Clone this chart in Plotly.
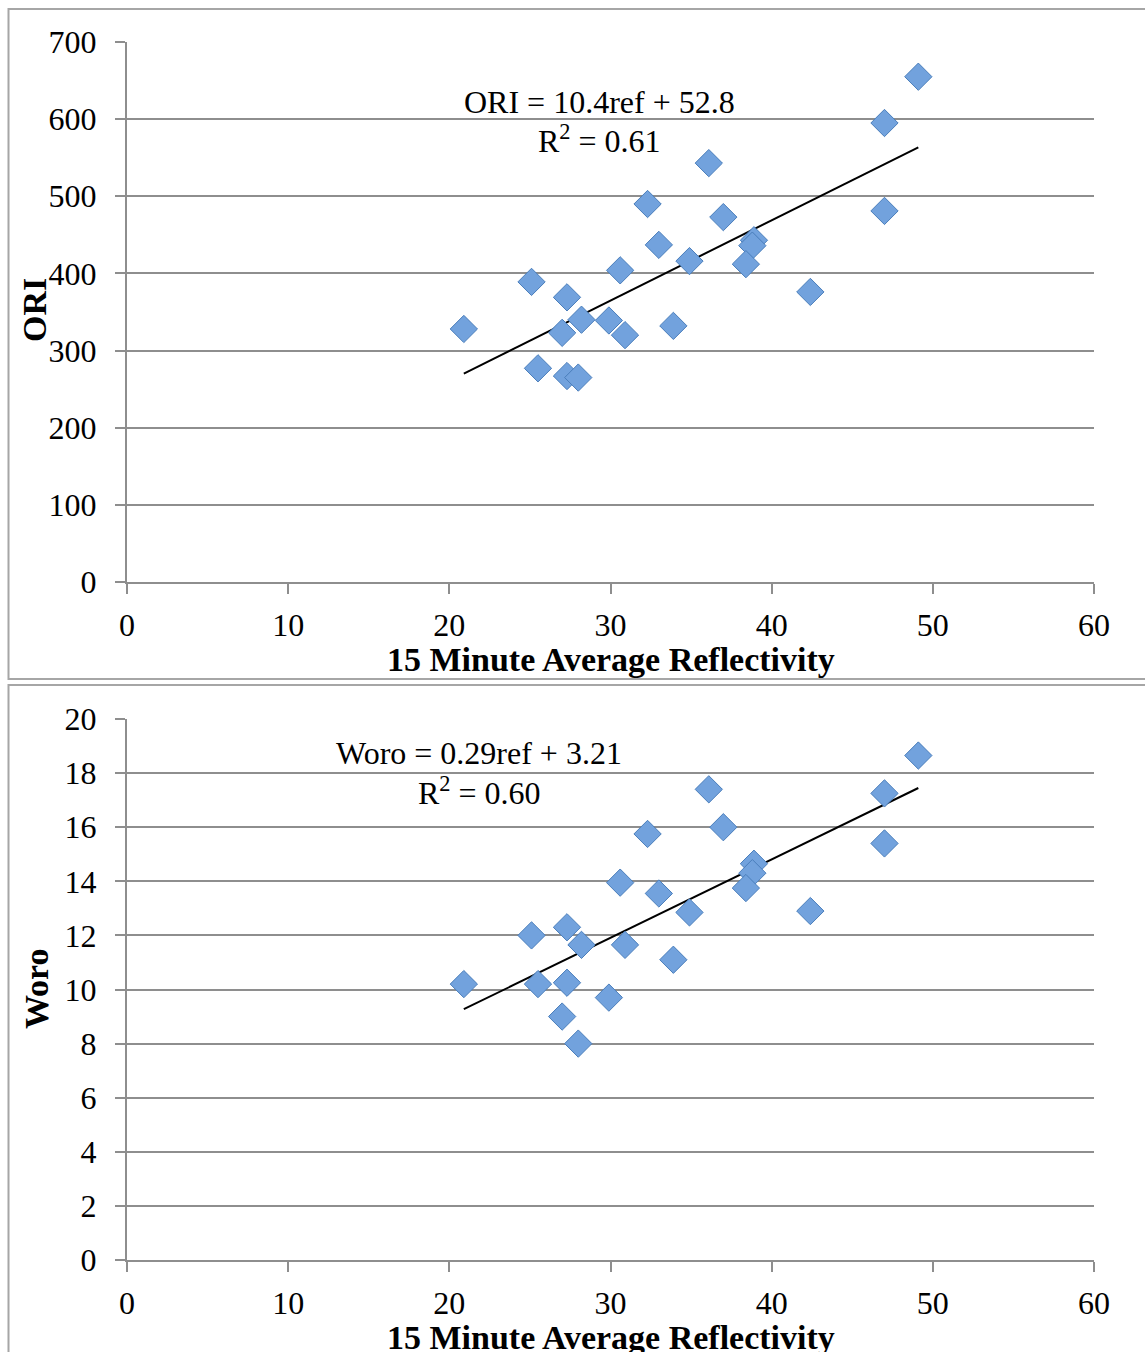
import plotly.graph_objects as go

# ---- data ----
ref = [20.9, 25.1, 27.3, 28.2, 27.0, 29.9, 30.9, 30.6, 32.3, 33.0, 34.9, 33.9,
       36.1, 37.0, 38.9, 38.8, 38.4, 42.4, 47.0, 47.0, 49.1, 25.5, 27.3, 28.0]
ori = [328, 389, 369, 340, 323, 339, 320, 404, 490, 437, 416, 332,
       543, 473, 443, 436, 412, 376, 595, 481, 655, 277, 267, 265]
woro = [10.2, 12.0, 12.3, 11.65, 9.0, 9.7, 11.65, 13.95, 15.75, 13.55, 12.85, 11.1,
        17.4, 16.0, 14.65, 14.3, 13.75, 12.9, 17.25, 15.4, 18.65, 10.2, 10.25, 8.0]

ori_fit = (10.4, 52.8)
woro_fit = (0.29, 3.21)
ori_eq = ["ORI = 10.4ref + 52.8", "R<sup>2</sup> = 0.61"]
woro_eq = ["Woro = 0.29ref + 3.21", "R<sup>2</sup> = 0.60"]

x_ticks = [0, 10, 20, 30, 40, 50, 60]
ori_ticks = [0, 100, 200, 300, 400, 500, 600, 700]
woro_ticks = [0, 2, 4, 6, 8, 10, 12, 14, 16, 18, 20]

W, H = 1145, 1352
FONT = "Liberation Serif"
GRID = "#8e8e8e"
BORDER = "#a6a6a6"
FILL = "#72a2dd"
EDGE = "#4a7ebb"

def px(v):
    return v / W

def py(v):
    return 1 - v / H

fig = go.Figure()

xmin, xmax = min(ref), max(ref)
for (yv, fit, xa, ya) in [(ori, ori_fit, "x", "y"), (woro, woro_fit, "x2", "y2")]:
    fig.add_trace(go.Scatter(
        x=[xmin, xmax], y=[fit[0] * xmin + fit[1], fit[0] * xmax + fit[1]],
        mode="lines", line=dict(color="black", width=2),
        xaxis=xa, yaxis=ya, showlegend=False, hoverinfo="skip"))
    fig.add_trace(go.Scatter(
        x=ref, y=yv, mode="markers",
        marker=dict(symbol="diamond", size=21, color=FILL,
                    line=dict(color=EDGE, width=1)),
        xaxis=xa, yaxis=ya, showlegend=False))

xdom = [px(127), px(1094)]
axis_common = dict(showline=True, linecolor=GRID, linewidth=2,
                   ticks="outside", ticklen=10, tickcolor=GRID, tickwidth=2,
                   tickfont=dict(family=FONT, size=32, color="black"),
                   zeroline=False, automargin=False)

fig.update_layout(
    width=W, height=H,
    margin=dict(l=0, r=0, t=0, b=0, autoexpand=False),
    paper_bgcolor="white", plot_bgcolor="white",
    xaxis=dict(domain=xdom, range=[0, 60], tickvals=x_ticks, showgrid=False,
               anchor="y", ticklabelstandoff=4, **axis_common),
    yaxis=dict(domain=[py(582), py(42)], range=[0, 700], tickvals=ori_ticks,
               showgrid=True, gridcolor=GRID, gridwidth=2, anchor="x",
               ticklabelstandoff=12, **axis_common),
    xaxis2=dict(domain=xdom, range=[0, 60], tickvals=x_ticks, showgrid=False,
                anchor="y2", ticklabelstandoff=4, **axis_common),
    yaxis2=dict(domain=[py(1260), py(719)], range=[0, 20], tickvals=woro_ticks,
                showgrid=True, gridcolor=GRID, gridwidth=2, anchor="x2",
                ticklabelstandoff=12, **axis_common),
)

# Chart boxes
fig.add_shape(type="rect", xref="paper", yref="paper",
              x0=px(8.5), x1=px(1160), y0=py(679), y1=py(9),
              line=dict(color=BORDER, width=2))
fig.add_shape(type="rect", xref="paper", yref="paper",
              x0=px(8.5), x1=px(1160), y0=py(1380), y1=py(685),
              line=dict(color=BORDER, width=2))

title_font = dict(family=FONT, size=34, color="black")
eq_font = dict(family=FONT, size=32, color="black")

annots = [
    dict(x=px(611), y=py(660), text="<b>15 Minute Average Reflectivity</b>", font=title_font),
    dict(x=px(611), y=py(1337), text="<b>15 Minute Average Reflectivity</b>", font=title_font),
    dict(x=px(34), y=py(310), text="<b>ORI</b>", textangle=-90, font=title_font),
    dict(x=px(36), y=py(989), text="<b>Woro</b>", textangle=-90, font=title_font),
    dict(x=px(599), y=py(102), text=ori_eq[0], font=eq_font),
    dict(x=px(599), y=py(139), text=ori_eq[1], font=eq_font),
    dict(x=px(479), y=py(753), text=woro_eq[0], font=eq_font),
    dict(x=px(479), y=py(791), text=woro_eq[1], font=eq_font),
]
for a in annots:
    fig.add_annotation(xref="paper", yref="paper", showarrow=False,
                       xanchor="center", yanchor="middle", **a)

fig.write_html("out.html")
